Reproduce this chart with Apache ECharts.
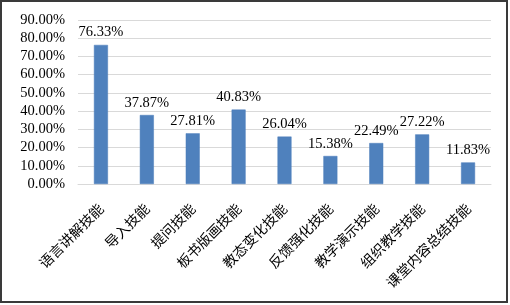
<!DOCTYPE html>
<html>
<head>
<meta charset="utf-8">
<script src="https://cdn.jsdelivr.net/npm/echarts@6/dist/echarts.min.js"></script>
<style>
  html, body { margin: 0; padding: 0; background: #fff; }
  #main { width: 510px; height: 305px; }
</style>
</head>
<body>
<div id="main"></div>
<script>
// 技能类别
var categories = ['语言讲解技能', '导入技能', '提问技能', '板书版画技能', '教态变化技能',
    '反馈强化技能', '教学演示技能', '组织教学技能', '课堂内容总结技能'];
// 百分比数值
var values = [76.33, 37.87, 27.81, 40.83, 26.04, 15.38, 22.49, 27.22, 11.83];

var serif = '"Liberation Serif", "Times New Roman", "Noto Sans CJK SC", serif';
var myChart = echarts.init(document.getElementById('main'));
var option = {
    animation: false,
    grid: { left: 78, right: 19, top: 20, bottom: 121 },
    graphic: [{
        type: 'rect',
        shape: { x: 1, y: 1, width: 506, height: 301 },
        style: { fill: 'none', stroke: '#3a3a3a', lineWidth: 2 },
        silent: true
    }],
    xAxis: {
        type: 'category',
        data: categories,
        axisLine: { show: true, lineStyle: { color: '#d9d9d9', width: 1 } },
        axisTick: { show: false },
        axisLabel: {
            rotate: 45,
            margin: 22,
            interval: 0,
            color: '#000',
            fontSize: 14,
            fontFamily: '"Noto Sans CJK SC", serif'
        }
    },
    yAxis: {
        type: 'value',
        min: 0,
        max: 90,
        interval: 10,
        axisLine: { show: false },
        axisTick: { show: false },
        splitLine: { lineStyle: { color: '#d9d9d9', width: 1 } },
        axisLabel: {
            margin: 13,
            color: '#000',
            fontSize: 14.5,
            fontFamily: serif,
            formatter: function (v) { return v.toFixed(2) + '%'; }
        }
    },
    series: [{
        type: 'bar',
        data: values,
        barWidth: 14,
        itemStyle: { color: '#4f81bd', borderColor: '#4a7dba', borderWidth: 0.5 },
        label: {
            show: true,
            position: 'top',
            distance: 5,
            color: '#000',
            fontSize: 14.5,
            fontFamily: serif,
            formatter: function (p) { return p.value.toFixed(2) + '%'; }
        }
    }]
};
myChart.setOption(option);
</script>
</body>
</html>
